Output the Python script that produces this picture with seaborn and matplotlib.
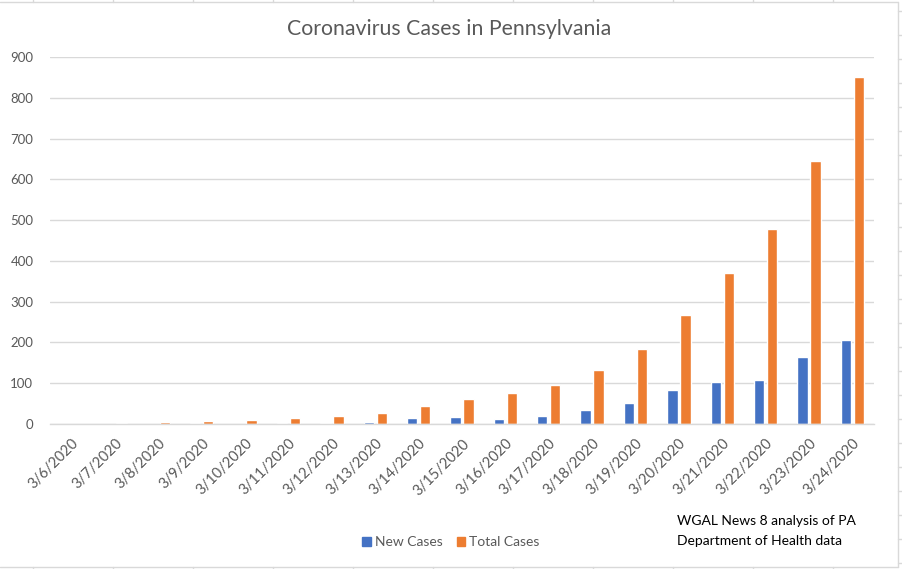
import matplotlib
matplotlib.use("Agg")

import matplotlib.pyplot as plt
import matplotlib.lines as mlines
import seaborn as sns
import pandas as pd
import numpy as np

# ── Data ────────────────────────────────────────────────────────────────────
dates = ["3/6/2020", "3/7/2020", "3/8/2020", "3/9/2020", "3/10/2020",
         "3/11/2020", "3/12/2020", "3/13/2020", "3/14/2020", "3/15/2020",
         "3/16/2020", "3/17/2020", "3/18/2020", "3/19/2020", "3/20/2020",
         "3/21/2020", "3/22/2020", "3/23/2020", "3/24/2020"]
new_cases = [0, 1, 0, 3, 0, 2, 2, 5, 15, 17, 12, 20, 35, 52, 83, 103, 108, 165, 207]
total_cases = [0, 3, 6, 8, 11, 15, 20, 28, 45, 62, 75, 96, 133, 185, 268, 371, 479, 644, 851]
y_ticks = [0, 100, 200, 300, 400, 500, 600, 700, 800, 900]

BLUE = "#4472C4"
ORANGE = "#ED7D31"
GRID = "#D9D9D9"
LABEL = "#595959"
FONT = ["Lato", "DejaVu Sans"]

df = pd.DataFrame({
    "date": dates * 2,
    "cases": new_cases + total_cases,
    "series": ["New Cases"] * len(dates) + ["Total Cases"] * len(dates),
})

sns.set_theme(style="white")
plt.rcParams["font.family"] = FONT

W, H = 902, 569
fig = plt.figure(figsize=(W / 100, H / 100), dpi=100)
ax = fig.add_axes([50 / W, (H - 424) / H, (874 - 50) / W, (424 - 57) / H])

sns.barplot(data=df, x="date", y="cases", hue="series",
            palette=[BLUE, ORANGE], width=0.6, gap=0.2,
            saturation=1, ax=ax, legend=True)

ax.set_ylim(0, 900)
ax.set_xlim(-0.5, len(dates) - 0.5)
ax.set_yticks(y_ticks)
ax.set_yticklabels([str(v) for v in y_ticks], color=LABEL, fontsize=9.5)
ax.yaxis.grid(True, color=GRID, linewidth=1)
ax.set_axisbelow(True)
ax.set_xlabel("")
ax.set_ylabel("")

ax.set_xticks(range(len(dates)))
ax.set_xticklabels(dates, rotation=45, ha="right", rotation_mode="anchor",
                   color=LABEL, fontsize=10.5)
ax.tick_params(axis="x", which="major", length=0, pad=9)
ax.tick_params(axis="y", length=0, pad=12)
ax.set_xticks(np.arange(-0.5, len(dates), 1), minor=True)
ax.tick_params(axis="x", which="minor", length=5, color=GRID, width=1)

for s in ["top", "right", "left"]:
    ax.spines[s].set_visible(False)
ax.spines["bottom"].set_color(GRID)
ax.spines["bottom"].set_linewidth(1)

ax.legend_.remove()
handles = [plt.Rectangle((0, 0), 1, 1, color=BLUE),
           plt.Rectangle((0, 0), 1, 1, color=ORANGE)]
fig.legend(handles, ["New Cases", "Total Cases"], loc="center",
           bbox_to_anchor=(451 / W, 1 - 542 / H), ncol=2, frameon=False,
           handlelength=0.6, handleheight=0.6, handletextpad=0.3,
           columnspacing=1.0, prop={"family": FONT, "size": 10},
           labelcolor=LABEL)

fig.text(449 / W, 1 - 29 / H, "Coronavirus Cases in Pennsylvania",
         ha="center", va="center", fontsize=15.3, color=LABEL)
fig.text(677 / W, 1 - 521 / H, "WGAL News 8 analysis of PA",
         ha="left", va="center", fontsize=10, color="black")
fig.text(677 / W, 1 - 541 / H, "Department of Health data",
         ha="left", va="center", fontsize=10, color="black")

# chart frame and spreadsheet cell grid around it
fig.add_artist(mlines.Line2D([0, 898 / W], [1 - 2 / H, 1 - 2 / H], color=GRID, lw=1))
fig.add_artist(mlines.Line2D([898 / W, 898 / W], [1 - 2 / H, 1 - 567 / H], color=GRID, lw=1))
fig.add_artist(mlines.Line2D([0, 898 / W], [1 - 567 / H, 1 - 567 / H], color=GRID, lw=1))
for yy in range(11, 569, 24):
    fig.add_artist(mlines.Line2D([898 / W, 902 / W], [1 - yy / H, 1 - yy / H], color=GRID, lw=1))
for xx in range(33, 898, 80):
    fig.add_artist(mlines.Line2D([xx / W, xx / W], [1 - 567 / H, 0], color=GRID, lw=1))
    fig.add_artist(mlines.Line2D([xx / W, xx / W], [1, 1 - 2 / H], color=GRID, lw=1))

fig.savefig("out.png", dpi=100, facecolor="white")
